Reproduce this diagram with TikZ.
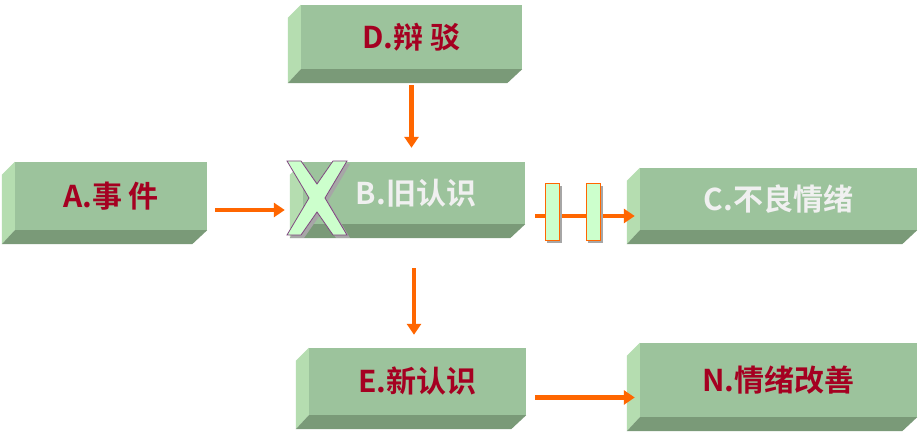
\documentclass[tikz,border=0pt]{standalone}
\usepackage{fontspec}
\newfontfamily\cjk{Noto Sans CJK SC Bold}
\usetikzlibrary{arrows.meta}
\definecolor{frontgreen}{HTML}{9CC39C}
\definecolor{sidegreen}{HTML}{B5DDB0}
\definecolor{lowgreen}{HTML}{7A9A78}
\definecolor{darkred}{HTML}{A50021}
\definecolor{arroworange}{HTML}{FF6600}
\definecolor{palegreen}{HTML}{CCFFCC}
\tikzset{
  prism/.style={rectangle, fill=frontgreen, inner sep=0pt, font=\cjk\fontsize{30}{30}\selectfont},
  redtext/.style={text=darkred},
  whitetext/.style={text=white!94!black},
  flow/.style={draw=arroworange, line width=4.5pt, -{Triangle[length=11pt,width=14pt]}},
  barmark/.style={fill=palegreen, draw=arroworange, line width=0.8pt},
  crossshadow/.style={fill=black!35},
  crossface/.style={fill=palegreen, draw=violet!45!gray, line width=0.8pt}
}
% left and lower bevel of a box
\newcommand{\bevel}[1]{
  \fill[sidegreen] (#1.north west) -- ++(-13,13) -- ([xshift=-13,yshift=-14]#1.south west) -- (#1.south west) -- cycle;
  \fill[lowgreen] (#1.south west) -- (#1.south east) -- ([xshift=-15,yshift=-14]#1.south east) -- ([xshift=-13,yshift=-14]#1.south west) -- cycle;
}
\newcommand{\crossat}[3]{
  \path[#3] (#1,#2) ++(-30,-37) -- ++(14,0) -- ++(16,23) -- ++(16,-23) -- ++(14,0)
    -- ++(-22,37) -- ++(22,37) -- ++(-14,0) -- ++(-16,-23) -- ++(-16,23) -- ++(-14,0)
    -- ++(22,-37) -- cycle;
}
\begin{document}
\begin{tikzpicture}[x=1pt,y=-1pt]
  \useasboundingbox (0,0) rectangle (922,435);
  \fill[white] (0,0) rectangle (922,435);
  \node (D) [prism, redtext, minimum width=221pt, minimum height=64pt] at (411.5,37) {D.辩 驳};
  \node (A) [prism, redtext, minimum width=192pt, minimum height=68pt] at (111,196) {A.事 件};
  \node (B) [prism, whitetext, minimum width=222pt, minimum height=62pt] at (414,193) {\hspace{4pt}B.旧认识};
  \node (C) [prism, whitetext, minimum width=277pt, minimum height=62pt] at (778.5,199) {C.不良情绪};
  \node (E) [prism, redtext, minimum width=217pt, minimum height=67pt] at (417.5,381.5) {E.新认识};
  \node (N) [prism, redtext, minimum width=277pt, minimum height=74pt] at (778.5,380) {N.情绪改善};
  \foreach \b in {D,A,B,C,E,N} {\bevel{\b}}
  % connectors
  \draw[flow, shorten <=16pt, shorten >=14pt] (D.south) -- (D.south |- B.north);
  \draw[flow, shorten <=8pt, shorten >=18pt] ([yshift=-14]A.east) -- ([yshift=-14]A.east -| B.west);
  \draw[flow, shorten <=44pt, shorten >=13pt] (B.south) -- (B.south |- E.north);
  \draw[flow, shorten <=10pt, shorten >=5pt] ([yshift=-23]B.east) -- ([yshift=-23]B.east -| C.west);
  \draw[flow, shorten <=9pt, shorten >=5pt] ([yshift=-16]E.east) -- ([yshift=-16]E.east -| N.west);
  % blocking bars
  \foreach \bx in {552,593} {
    \fill[black!35] (\bx-5,186) rectangle (\bx+10,243);
    \draw[barmark] (\bx-7,183) rectangle (\bx+7,240);
  }
  % cross over the old belief
  \crossat{320}{201}{crossshadow}
  \crossat{317}{198}{crossface}
\end{tikzpicture}
\end{document}
